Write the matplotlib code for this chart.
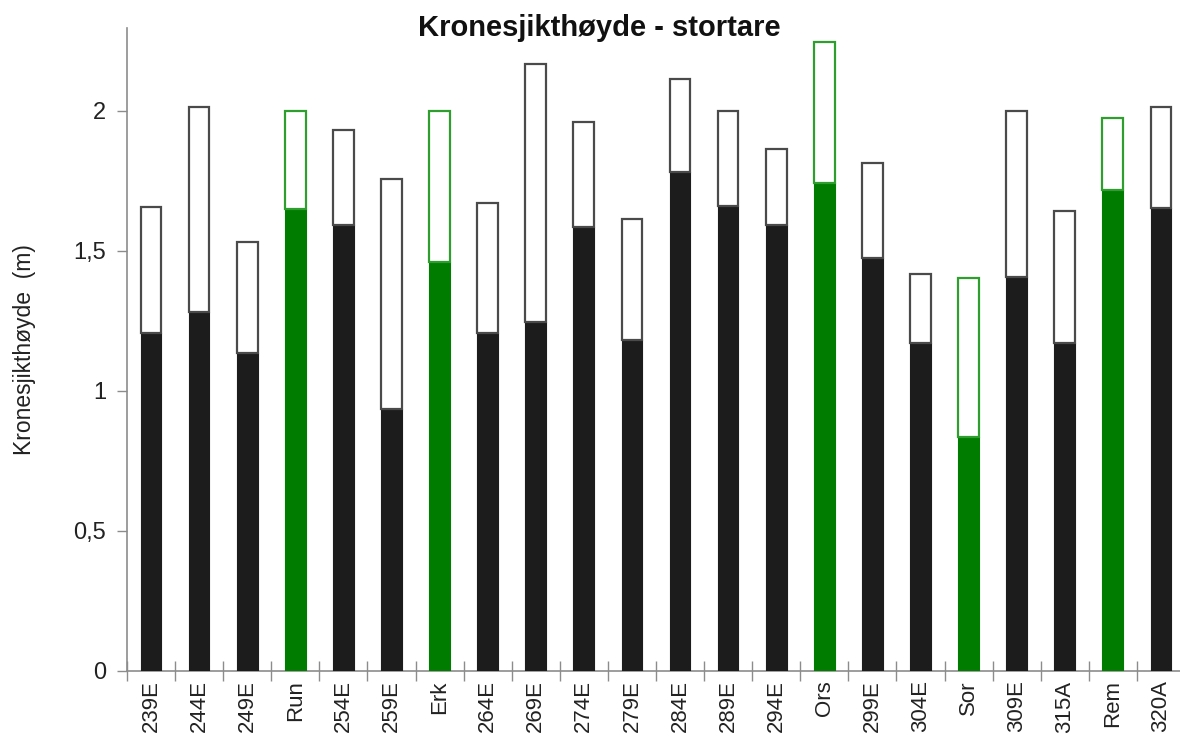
import numpy as np
import matplotlib
matplotlib.use("Agg")
import matplotlib.pyplot as plt

plt.rcParams["font.family"] = ["Liberation Sans", "DejaVu Sans"]

# Data
sites = ["239E", "244E", "249E", "Run", "254E", "259E", "Erk", "264E", "269E",
         "274E", "279E", "284E", "289E", "294E", "Ors", "299E", "304E", "Sor",
         "309E", "315A", "Rem", "320A"]
lower = [1.205, 1.282, 1.134, 1.648, 1.592, 0.934, 1.461, 1.205, 1.244,
         1.584, 1.182, 1.779, 1.660, 1.593, 1.743, 1.473, 1.169, 0.835,
         1.406, 1.169, 1.717, 1.651]
total = [1.655, 2.014, 1.530, 2.000, 1.929, 1.756, 2.000, 1.670, 2.166,
         1.959, 1.614, 2.114, 2.000, 1.863, 2.246, 1.812, 1.418, 1.404,
         2.000, 1.641, 1.973, 2.014]
highlight = ["Run", "Erk", "Ors", "Sor", "Rem"]

BLACK = "#1c1c1c"
GREEN = "#007d00"
GREEN_EDGE = "#2e9e2e"
GRAY_EDGE = "#4a4a4a"
AXIS = "#8c8c8c"

fig = plt.figure(figsize=(11.8, 7.36), dpi=100)
ax = fig.add_axes([0.1076, 0.0887, 0.8966, 0.8733])

x = np.arange(len(sites))
upper = np.array(total) - np.array(lower)
fills = [GREEN if s in highlight else BLACK for s in sites]
edges = [GREEN_EDGE if s in highlight else GRAY_EDGE for s in sites]

# lower part filled, upper part as an outlined white box
ax.bar(x, lower, width=0.43, color=fills, edgecolor=fills, linewidth=0.8, zorder=3)
ax.bar(x, upper, bottom=lower, width=0.43, color="white", edgecolor=edges,
       linewidth=1.6, zorder=3)

ax.set_xlim(-0.5, len(sites) - 0.5)
ax.set_ylim(0, 2.295)

ax.set_yticks([0, 0.5, 1, 1.5, 2])
ax.set_yticklabels(["0", "0,5", "1", "1,5", "2"])
ax.tick_params(axis="y", direction="out", length=7, width=1, color=AXIS,
               labelsize=17, labelcolor="#222222", pad=8)

ax.set_xticks(x)
ax.set_xticklabels(sites, rotation=90)
ax.set_xticks(np.arange(len(sites) + 1) - 0.5, minor=True)
ax.tick_params(axis="x", which="major", length=0, labelsize=16,
               labelcolor="#222222", pad=7)
ax.tick_params(axis="x", which="minor", direction="inout", length=14, width=1,
               color=AXIS)

for side in ["top", "right"]:
    ax.spines[side].set_visible(False)
for side in ["left", "bottom"]:
    ax.spines[side].set_color(AXIS)
    ax.spines[side].set_linewidth(1.2)

fig.text(0.021, 0.525, "Kronesjikthøyde  (m)", rotation=90, ha="center",
         va="center", fontsize=16.5, color="#222222")
fig.text(0.508, 0.962, "Kronesjikthøyde - stortare", ha="center", va="center",
         fontsize=21, fontweight="bold", color="#111111")

fig.savefig("out.png", dpi=100, facecolor="white")
